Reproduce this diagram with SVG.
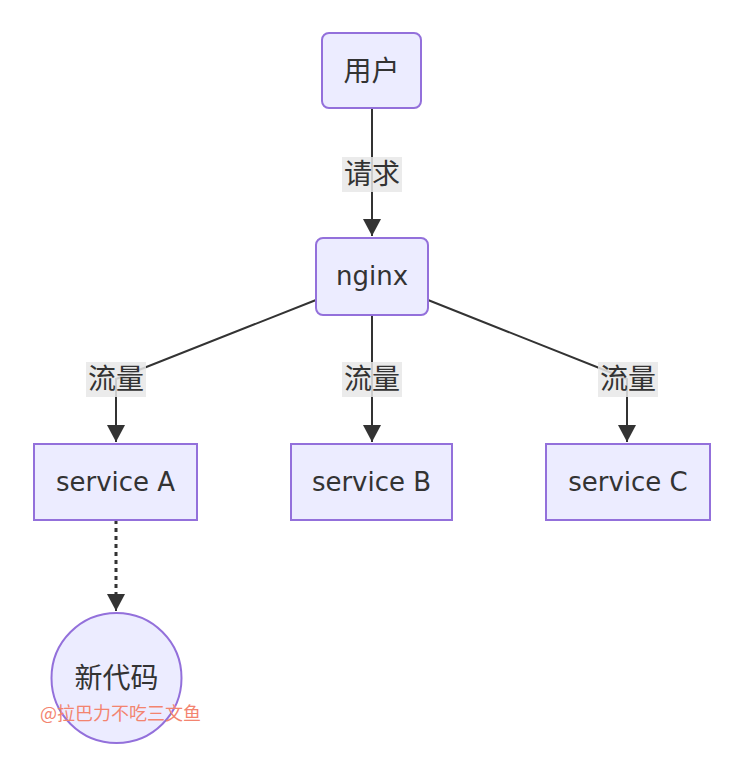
<svg xmlns="http://www.w3.org/2000/svg" width="741" height="779" viewBox="0 0 741 779">
<style>
.node{fill:#ECECFF;stroke:#9370DB;stroke-width:2}
.t{font-family:"DejaVu Sans","Noto Sans CJK SC",sans-serif;font-size:26px;fill:#333;text-anchor:middle;dominant-baseline:central}
.cjk{font-size:28px}
.lbl{fill:#e8e8e8;opacity:0.85}
.edge{fill:none;stroke:#333;stroke-width:2}
.dot{fill:none;stroke:#333;stroke-width:3;stroke-dasharray:4 4}
.wm{font-family:"Noto Sans CJK SC",sans-serif;font-size:18px;fill:#f3846f;dominant-baseline:central}
</style>
<defs>
<marker id="arr" markerUnits="userSpaceOnUse" markerWidth="20" markerHeight="20" viewBox="0 0 20 20" refX="18" refY="10" orient="auto">
<path d="M1,1 L18,10 L1,19 Z" fill="#333"/>
</marker>
</defs>
<rect width="741" height="779" fill="#ffffff"/>
<g id="connectors">
<path class="edge" d="M372,108 L372,236" marker-end="url(#arr)"/>
<path class="edge" d="M316,300 L116,379 L116,442" marker-end="url(#arr)"/>
<path class="edge" d="M372,315 L372,442" marker-end="url(#arr)"/>
<path class="edge" d="M428,300 L627,379 L627,442" marker-end="url(#arr)"/>
<path class="dot" d="M116,520 L116,595"/>
<path class="edge" d="M116,595 L116,611" marker-end="url(#arr)"/>
<g id="edge-labels">
<rect class="lbl" x="342" y="157" width="60" height="35"/>
<text class="t cjk" x="372" y="174.5">请求</text>
<rect class="lbl" x="86" y="362" width="60" height="35"/>
<text class="t cjk" x="116" y="379.5">流量</text>
<rect class="lbl" x="342" y="362" width="60" height="35"/>
<text class="t cjk" x="372" y="379.5">流量</text>
<rect class="lbl" x="598" y="362" width="60" height="35"/>
<text class="t cjk" x="628" y="379.5">流量</text>
</g>
</g>
<g id="user">
<rect class="node" x="322" y="33" width="99" height="75" rx="7"/>
<text class="t cjk" x="371.5" y="71">用户</text>
</g>
<g id="nginx">
<rect class="node" x="316" y="238" width="112" height="77" rx="7"/>
<text class="t" x="372" y="276">nginx</text>
</g>
<g id="serviceA">
<rect class="node" x="34" y="444" width="163" height="76"/>
<text class="t" x="115.5" y="482">service A</text>
</g>
<g id="serviceB">
<rect class="node" x="291" y="444" width="161" height="76"/>
<text class="t" x="371.5" y="482">service B</text>
</g>
<g id="serviceC">
<rect class="node" x="546" y="444" width="164" height="76"/>
<text class="t" x="628" y="482">service C</text>
</g>
<g id="newcode">
<circle class="node" cx="116.5" cy="678" r="65"/>
<text class="t cjk" x="116.5" y="678">新代码</text>
</g>
<text class="wm" x="40" y="712">@拉巴力不吃三文鱼</text>
</svg>
